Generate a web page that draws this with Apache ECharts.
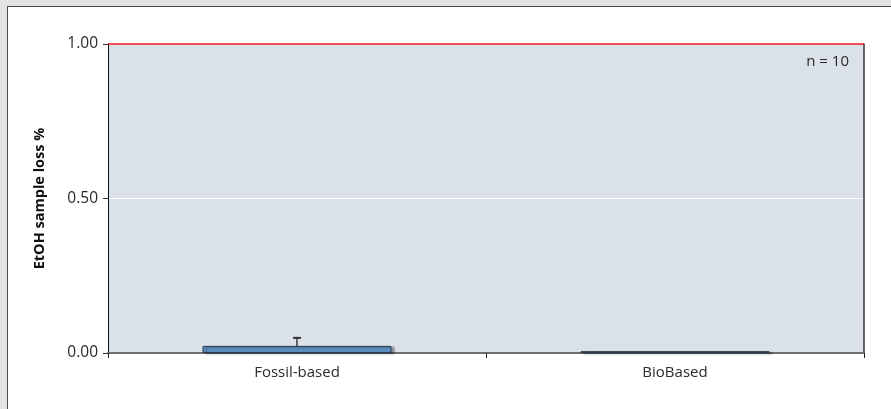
<!DOCTYPE html>
<html>
<head>
<meta charset="utf-8">
<script src="https://cdn.jsdelivr.net/npm/echarts@6/dist/echarts.min.js"></script>
<style>
  html, body { margin: 0; padding: 0; background: #e3e3e3; }
  #frame { position: absolute; left: 7px; top: 6px; width: 884px; height: 403px;
           background: #ffffff; border-left: 1px solid #4a4a4a; border-top: 1px solid #4a4a4a; box-sizing: border-box; }
  #chart { position: absolute; left: 0; top: 0; width: 891px; height: 409px; }
</style>
</head>
<body>
<div id="frame"></div>
<div id="chart"></div>
<script>
// Sample loss per material type
const categories = ['Fossil-based', 'BioBased'];
const lossValues = [0.023, 0.006];
const lossErrors = [0.026, 0];
const yTicks = [0, 0.5, 1];
const sampleNote = 'n = 10';
const axisTitle = 'EtOH sample loss %';

const FONT = '"Open Sans", "Noto Sans", sans-serif';
const chart = echarts.init(document.getElementById('chart'), null, { renderer: 'canvas' });

const errorData = categories.map((c, i) => [i, lossValues[i], lossValues[i] + lossErrors[i]]);

chart.setOption({
  backgroundColor: 'transparent',
  animation: false,
  grid: { left: 108, right: 27, top: 44, bottom: 56, show: true,
          backgroundColor: '#dbe1e8', borderWidth: 0 },
  xAxis: {
    type: 'category',
    data: categories,
    axisLine: { show: true, lineStyle: { color: '#6f6f6f', width: 2 } },
    axisTick: { show: true, alignWithLabel: false, length: 5, lineStyle: { color: '#222', width: 1 } },
    axisLabel: { color: '#2a2a2a', fontFamily: FONT, fontSize: 15, margin: 12 },
    splitLine: { show: false }
  },
  yAxis: [{
    type: 'value',
    min: yTicks[0],
    max: yTicks[yTicks.length - 1],
    interval: yTicks[1] - yTicks[0],
    name: axisTitle,
    nameLocation: 'middle',
    nameGap: 61,
    nameRotate: 90,
    nameTextStyle: { color: '#111', fontFamily: FONT, fontSize: 14.5, fontWeight: 'bold' },
    axisLine: { show: true, lineStyle: { color: '#111', width: 1 } },
    axisTick: { show: true, length: 5, lineStyle: { color: '#333' } },
    axisLabel: { color: '#2a2a2a', fontFamily: FONT, fontSize: 15.5, margin: 10,
                 formatter: v => v.toFixed(2) },
    splitLine: { show: true, lineStyle: { color: '#ffffff', width: 1 } }
  }, {
    type: 'value',
    position: 'right',
    min: yTicks[0],
    max: yTicks[yTicks.length - 1],
    axisLine: { show: true, lineStyle: { color: '#333', width: 1.5 } },
    axisTick: { show: false },
    axisLabel: { show: false },
    splitLine: { show: false }
  }],
  series: [{
    type: 'bar',
    data: lossValues,
    barWidth: '50%',
    itemStyle: {
      color: '#5b8fc2',
      borderColor: '#2b3b4e',
      borderWidth: 1,
      shadowColor: 'rgba(0,0,0,0.35)',
      shadowBlur: 2,
      shadowOffsetX: 3,
      shadowOffsetY: 1
    },
    markLine: {
      silent: true,
      symbol: 'none',
      label: { show: false },
      lineStyle: { color: '#e8141c', width: 1.5, type: 'solid' },
      data: [{ yAxis: yTicks[yTicks.length - 1] }]
    },
    z: 3
  }, {
    type: 'custom',
    data: errorData,
    z: 4,
    renderItem: function (params, api) {
      const x = api.coord([api.value(0), api.value(1)])[0];
      const yLow = api.coord([api.value(0), api.value(1)])[1];
      const yHigh = api.coord([api.value(0), api.value(2)])[1];
      if (yLow - yHigh < 1) return null;
      const cap = 4;
      const style = { stroke: '#111', lineWidth: 1.2 };
      return {
        type: 'group',
        children: [
          { type: 'line', shape: { x1: x, y1: yLow, x2: x, y2: yHigh }, style: style },
          { type: 'line', shape: { x1: x - cap, y1: yHigh, x2: x + cap, y2: yHigh }, style: { stroke: '#333', lineWidth: 2 } }
        ]
      };
    }
  }],
  graphic: [{
    type: 'text',
    right: 42,
    top: 54,
    style: { text: sampleNote, fill: '#2a2a2a', font: '15px ' + FONT }
  }]
});
</script>
</body>
</html>
